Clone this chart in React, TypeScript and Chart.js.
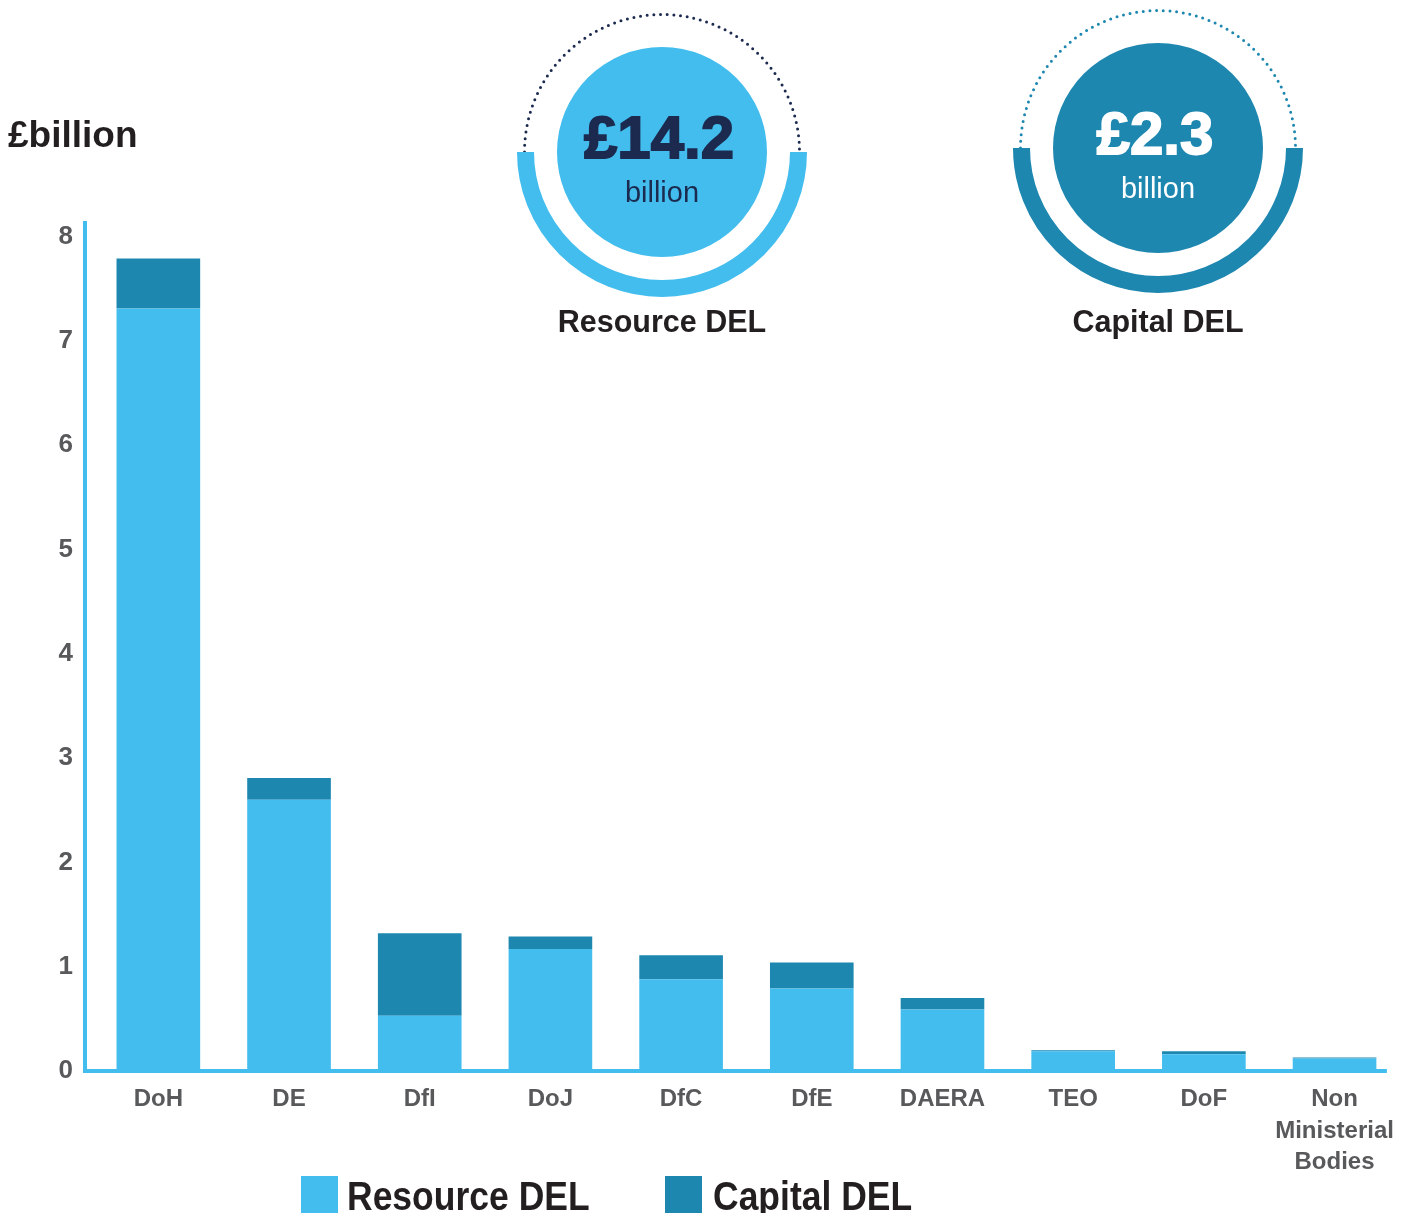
import React, { useEffect, useRef } from "react";
import { Chart, registerables } from "chart.js";

Chart.register(...registerables);

// ---------- data ----------
const categories: (string | string[])[] = [
  "DoH",
  "DE",
  "DfI",
  "DoJ",
  "DfC",
  "DfE",
  "DAERA",
  "TEO",
  "DoF",
  ["Non", "Ministerial", "Bodies"],
];
const resourceDEL = [7.31, 2.6, 0.53, 1.17, 0.88, 0.79, 0.59, 0.19, 0.16, 0.12];
const capitalDEL = [0.48, 0.21, 0.79, 0.12, 0.23, 0.25, 0.11, 0.01, 0.03, 0.01];
const seriesNames = ["Resource DEL", "Capital DEL"];
const seriesColors = ["#42bdee", "#1d87b0"];
const yTickValues = [0, 1, 2, 3, 4, 5, 6, 7, 8];
const yMax = 8.15;
const headlineTotals = ["£14.2", "£2.3"];
const headlineUnit = "billion";
const unitLabel = "£billion";

const FONT = "'Liberation Sans', Arial, Helvetica, sans-serif";
const NAVY = "#1b2a4e";
const INK = "#231f20";
const GREY = "#58595b";

const axisLinesPlugin = {
  id: "axisLines",
  afterDatasetsDraw(chart: any) {
    const { ctx, chartArea: a } = chart;
    ctx.save();
    ctx.fillStyle = seriesColors[0];
    const x0 = a.left - 10;
    ctx.fillRect(x0, a.top, 4, a.bottom + 2 - a.top);
    ctx.fillRect(x0, a.bottom - 2, a.right - 13 - x0, 4);
    ctx.restore();
  },
};

function Badge(props: {
  cx: number;
  cy: number;
  fill: string;
  dot: string;
  value: string;
  textColor: string;
  caption: string;
}) {
  const { cx, cy, fill, dot, value, textColor, caption } = props;
  const rBand = 136.5;
  const rDot = 137.5;
  return (
    <g>
      <path
        d={`M ${cx - rDot} ${cy} A ${rDot} ${rDot} 0 0 1 ${cx + rDot} ${cy}`}
        fill="none"
        stroke={dot}
        strokeWidth={3}
        strokeLinecap="round"
        strokeDasharray="0 6.7"
      />
      <path
        d={`M ${cx - rBand} ${cy} A ${rBand} ${rBand} 0 0 0 ${cx + rBand} ${cy}`}
        fill="none"
        stroke={fill}
        strokeWidth={17}
      />
      <circle cx={cx} cy={cy} r={105} fill={fill} />
      <text
        x={cx - 3}
        y={cy + 6}
        textAnchor="middle"
        fontFamily={FONT}
        fontWeight="bold"
        fontSize={60}
        fill={textColor}
        stroke={textColor}
        strokeWidth={1.8}
      >
        {value}
      </text>
      <text
        x={cx}
        y={cy + 50}
        textAnchor="middle"
        fontFamily={FONT}
        fontSize={29}
        fill={textColor}
      >
        {headlineUnit}
      </text>
      <text
        x={cx}
        y={332}
        textAnchor="middle"
        fontFamily={FONT}
        fontWeight="bold"
        fontSize={30.5}
        fill={INK}
      >
        {caption}
      </text>
    </g>
  );
}

export default function App() {
  const canvasRef = useRef<HTMLCanvasElement | null>(null);

  useEffect(() => {
    document.body.style.margin = "0";
    document.documentElement.style.overflow = "hidden";
    const canvas = canvasRef.current;
    if (!canvas) return;
    const chart = new Chart(canvas, {
      type: "bar",
      data: {
        labels: categories as any,
        datasets: [
          {
            label: seriesNames[0],
            data: resourceDEL,
            backgroundColor: seriesColors[0],
            borderWidth: 0,
            barPercentage: 0.64,
            categoryPercentage: 1,
          },
          {
            label: seriesNames[1],
            data: capitalDEL,
            backgroundColor: seriesColors[1],
            borderWidth: 0,
            barPercentage: 0.64,
            categoryPercentage: 1,
          },
        ],
      },
      options: {
        responsive: false,
        maintainAspectRatio: false,
        animation: false,
        layout: { padding: { top: 221, right: 2, left: 0, bottom: 0 } },
        plugins: {
          legend: { display: false },
          tooltip: { enabled: false },
          title: { display: false },
        },
        scales: {
          x: {
            stacked: true,
            grid: { display: false, drawTicks: false },
            border: { display: false },
            ticks: {
              color: GREY,
              font: { family: FONT, size: 24, weight: "bold", lineHeight: 1.33 },
              padding: 12,
              maxRotation: 0,
              autoSkip: false,
            },
            afterFit: (s: any) => {
              s.height = 142;
            },
          },
          y: {
            stacked: true,
            min: 0,
            max: yMax,
            grid: { display: false, drawTicks: false },
            border: { display: false },
            ticks: {
              color: GREY,
              font: { family: FONT, size: 26, weight: "bold" },
              padding: 20,
            },
            afterBuildTicks: (s: any) => {
              s.ticks = yTickValues.map((v) => ({ value: v }));
            },
            afterFit: (s: any) => {
              s.width = 93;
            },
          },
        },
      } as any,
      plugins: [axisLinesPlugin],
    });
    return () => chart.destroy();
  }, []);

  const legendItems = [
    { x: 301, textX: 347 },
    { x: 665, textX: 713 },
  ];

  return (
    <div
      style={{
        position: "absolute",
        left: 0,
        top: 0,
        width: 1406,
        height: 1213,
        overflow: "hidden",
        background: "#ffffff",
      }}
    >
      <canvas
        ref={canvasRef}
        width={1406}
        height={1213}
        style={{ position: "absolute", left: 0, top: 0, width: 1406, height: 1213 }}
      />
      <svg
        width={1406}
        height={1213}
        style={{ position: "absolute", left: 0, top: 0, pointerEvents: "none" }}
      >
        <text
          x={8}
          y={147}
          fontFamily={FONT}
          fontWeight="bold"
          fontSize={37}
          fill={INK}
        >
          {unitLabel}
        </text>
        <Badge
          cx={662}
          cy={152}
          fill={seriesColors[0]}
          dot={NAVY}
          value={headlineTotals[0]}
          textColor={NAVY}
          caption={seriesNames[0]}
        />
        <Badge
          cx={1158}
          cy={148}
          fill={seriesColors[1]}
          dot={seriesColors[1]}
          value={headlineTotals[1]}
          textColor="#ffffff"
          caption={seriesNames[1]}
        />
        {legendItems.map((it, i) => (
          <g key={i}>
            <rect x={it.x} y={1176} width={37} height={40} fill={seriesColors[i]} />
            <text
              transform={`translate(${it.textX},1210) scale(1,1.15)`}
              x={0}
              y={0}
              fontFamily={FONT}
              fontWeight="bold"
              fontSize={35.5}
              fill={INK}
            >
              {seriesNames[i]}
            </text>
          </g>
        ))}
      </svg>
    </div>
  );
}
